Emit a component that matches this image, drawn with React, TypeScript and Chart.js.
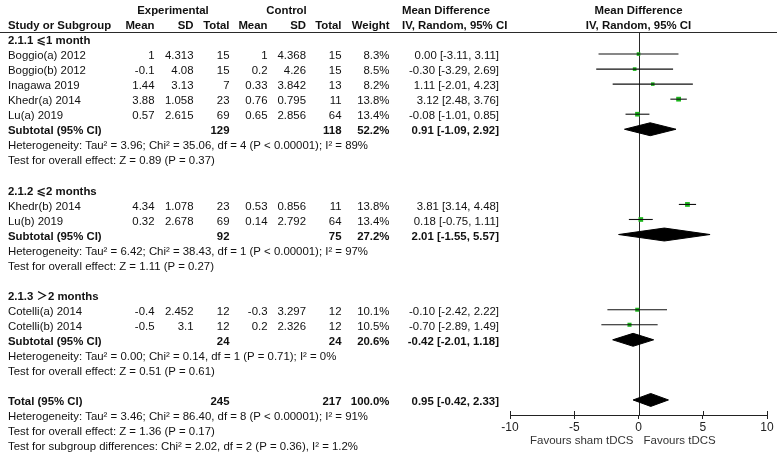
import React, { useEffect, useRef } from 'react';
import { Chart, registerables } from 'chart.js';

Chart.register(...registerables);

// ---------- data ----------
const studies = ['Boggio(a) 2012', 'Boggio(b) 2012', 'Inagawa 2019', 'Khedr(a) 2014', 'Lu(a) 2019', 'Khedr(b) 2014', 'Lu(b) 2019', 'Cotelli(a) 2014', 'Cotelli(b) 2014'];
const studyGroup = [0, 0, 0, 0, 0, 1, 1, 2, 2];
const expMean = ['1', '-0.1', '1.44', '3.88', '0.57', '4.34', '0.32', '-0.4', '-0.5'];
const expSD = ['4.313', '4.08', '3.13', '1.058', '2.615', '1.078', '2.678', '2.452', '3.1'];
const expTotal = [15, 15, 7, 23, 69, 23, 69, 12, 12];
const ctlMean = ['1', '0.2', '0.33', '0.76', '0.65', '0.53', '0.14', '-0.3', '0.2'];
const ctlSD = ['4.368', '4.26', '3.842', '0.795', '2.856', '0.856', '2.792', '3.297', '2.326'];
const ctlTotal = [15, 15, 13, 11, 64, 11, 64, 12, 12];
const weights = [8.3, 8.5, 8.2, 13.8, 13.4, 13.8, 13.4, 10.1, 10.5];
const md = [0.0, -0.3, 1.11, 3.12, -0.08, 3.81, 0.18, -0.1, -0.7];
const ciLo = [-3.11, -3.29, -2.01, 2.48, -1.01, 3.14, -0.75, -2.42, -2.89];
const ciHi = [3.11, 2.69, 4.23, 3.76, 0.85, 4.48, 1.11, 2.22, 1.49];

const groupTitles = ['2.1.1 \u2A7D1 month', '2.1.2 \u2A7D2 months', '2.1.3 \uFF1E2 months'];
const subExpTotal = [129, 92, 24];
const subCtlTotal = [118, 75, 24];
const subWeight = [52.2, 27.2, 20.6];
const subMd = [0.91, 2.01, -0.42];
const subLo = [-1.09, -1.55, -2.01];
const subHi = [2.92, 5.57, 1.18];
const subHet = [
  'Heterogeneity: Tau\u00B2 = 3.96; Chi\u00B2 = 35.06, df = 4 (P < 0.00001); I\u00B2 = 89%',
  'Heterogeneity: Tau\u00B2 = 6.42; Chi\u00B2 = 38.43, df = 1 (P < 0.00001); I\u00B2 = 97%',
  'Heterogeneity: Tau\u00B2 = 0.00; Chi\u00B2 = 0.14, df = 1 (P = 0.71); I\u00B2 = 0%',
];
const subTest = [
  'Test for overall effect: Z = 0.89 (P = 0.37)',
  'Test for overall effect: Z = 1.11 (P = 0.27)',
  'Test for overall effect: Z = 0.51 (P = 0.61)',
];
const totalExp = 245;
const totalCtl = 217;
const totalWeight = 100.0;
const totalMd = 0.95;
const totalLo = -0.42;
const totalHi = 2.33;
const totalHet = 'Heterogeneity: Tau\u00B2 = 3.46; Chi\u00B2 = 86.40, df = 8 (P < 0.00001); I\u00B2 = 91%';
const totalTest = 'Test for overall effect: Z = 1.36 (P = 0.17)';
const subgroupDiff = 'Test for subgroup differences: Chi\u00B2 = 2.02, df = 2 (P = 0.36), I\u00B2 = 1.2%';

const xTicks = [-10, -5, 0, 5, 10];
const favourLeft = 'Favours sham tDCS';
const favourRight = 'Favours tDCS';

// ---------- layout ----------
const FONT = '"Liberation Sans", Arial, "DejaVu Sans", "Noto Sans CJK SC", sans-serif';
const FS = 11.4;
const TEXT_DY = 2;
const COL = {
  name: 8,
  expMean: 154.5,
  expSD: 193.5,
  expTotal: 229.5,
  ctlMean: 267.5,
  ctlSD: 306,
  ctlTotal: 341.5,
  weight: 389.5,
  ciLeft: 402,
  ciRight: 499,
};

type TextItem = { t: string; x: number; row: number; align: CanvasTextAlign; bold?: boolean };

function fmtCI(m: number, l: number, h: number) {
  return `${m.toFixed(2)} [${l.toFixed(2)}, ${h.toFixed(2)}]`;
}

export default function App() {
  const ref = useRef<HTMLCanvasElement>(null);

  useEffect(() => {
    document.body.style.margin = '0';
    const canvas = ref.current!;

    // rows
    let r = 0;
    const studyRow: number[] = [];
    const titleRow: number[] = [];
    const subRow: number[] = [];
    const hetRow: number[] = [];
    const testRow: number[] = [];
    for (let g = 0; g < groupTitles.length; g++) {
      titleRow[g] = r++;
      studies.forEach((_, i) => {
        if (studyGroup[i] === g) studyRow[i] = r++;
      });
      subRow[g] = r++;
      hetRow[g] = r++;
      testRow[g] = r++;
      r++;
    }
    const totalRow = r;

    const items: TextItem[] = [];
    // headers
    items.push({ t: 'Experimental', x: 173, row: -2, align: 'center', bold: true });
    items.push({ t: 'Control', x: 286.5, row: -2, align: 'center', bold: true });
    items.push({ t: 'Mean Difference', x: COL.ciLeft, row: -2, align: 'left', bold: true });
    items.push({ t: 'Study or Subgroup', x: COL.name, row: -1, align: 'left', bold: true });
    items.push({ t: 'Mean', x: COL.expMean, row: -1, align: 'right', bold: true });
    items.push({ t: 'SD', x: COL.expSD, row: -1, align: 'right', bold: true });
    items.push({ t: 'Total', x: COL.expTotal, row: -1, align: 'right', bold: true });
    items.push({ t: 'Mean', x: COL.ctlMean, row: -1, align: 'right', bold: true });
    items.push({ t: 'SD', x: COL.ctlSD, row: -1, align: 'right', bold: true });
    items.push({ t: 'Total', x: COL.ctlTotal, row: -1, align: 'right', bold: true });
    items.push({ t: 'Weight', x: COL.weight, row: -1, align: 'right', bold: true });
    items.push({ t: 'IV, Random, 95% CI', x: COL.ciLeft, row: -1, align: 'left', bold: true });

    for (let g = 0; g < groupTitles.length; g++) {
      items.push({ t: groupTitles[g], x: COL.name, row: titleRow[g], align: 'left', bold: true });
      items.push({ t: 'Subtotal (95% CI)', x: COL.name, row: subRow[g], align: 'left', bold: true });
      items.push({ t: String(subExpTotal[g]), x: COL.expTotal, row: subRow[g], align: 'right', bold: true });
      items.push({ t: String(subCtlTotal[g]), x: COL.ctlTotal, row: subRow[g], align: 'right', bold: true });
      items.push({ t: subWeight[g].toFixed(1) + '%', x: COL.weight, row: subRow[g], align: 'right', bold: true });
      items.push({ t: fmtCI(subMd[g], subLo[g], subHi[g]), x: COL.ciRight, row: subRow[g], align: 'right', bold: true });
      items.push({ t: subHet[g], x: COL.name, row: hetRow[g], align: 'left' });
      items.push({ t: subTest[g], x: COL.name, row: testRow[g], align: 'left' });
    }
    studies.forEach((s, i) => {
      const row = studyRow[i];
      items.push({ t: s, x: COL.name, row, align: 'left' });
      items.push({ t: expMean[i], x: COL.expMean, row, align: 'right' });
      items.push({ t: expSD[i], x: COL.expSD, row, align: 'right' });
      items.push({ t: String(expTotal[i]), x: COL.expTotal, row, align: 'right' });
      items.push({ t: ctlMean[i], x: COL.ctlMean, row, align: 'right' });
      items.push({ t: ctlSD[i], x: COL.ctlSD, row, align: 'right' });
      items.push({ t: String(ctlTotal[i]), x: COL.ctlTotal, row, align: 'right' });
      items.push({ t: weights[i].toFixed(1) + '%', x: COL.weight, row, align: 'right' });
      items.push({ t: fmtCI(md[i], ciLo[i], ciHi[i]), x: COL.ciRight, row, align: 'right' });
    });
    items.push({ t: 'Total (95% CI)', x: COL.name, row: totalRow, align: 'left', bold: true });
    items.push({ t: String(totalExp), x: COL.expTotal, row: totalRow, align: 'right', bold: true });
    items.push({ t: String(totalCtl), x: COL.ctlTotal, row: totalRow, align: 'right', bold: true });
    items.push({ t: totalWeight.toFixed(1) + '%', x: COL.weight, row: totalRow, align: 'right', bold: true });
    items.push({ t: fmtCI(totalMd, totalLo, totalHi), x: COL.ciRight, row: totalRow, align: 'right', bold: true });
    items.push({ t: totalHet, x: COL.name, row: totalRow + 1, align: 'left' });
    items.push({ t: totalTest, x: COL.name, row: totalRow + 2, align: 'left' });
    items.push({ t: subgroupDiff, x: COL.name, row: totalRow + 3, align: 'left' });

    const H = 0.43;
    const diamond = (m: number, l: number, h: number, row: number) => ({
      type: 'line' as const,
      data: [
        { x: l, y: row },
        { x: m, y: row - H },
        { x: h, y: row },
        { x: m, y: row + H },
        { x: l, y: row },
      ],
      borderColor: '#000',
      backgroundColor: '#000',
      borderWidth: 1,
      pointRadius: 0,
      fill: 'shape' as any,
      tension: 0,
    });

    const datasets: any[] = [];
    studies.forEach((_, i) => {
      datasets.push({
        type: 'line',
        data: [
          { x: ciLo[i], y: studyRow[i] },
          { x: ciHi[i], y: studyRow[i] },
        ],
        borderColor: '#111',
        borderWidth: 1.1,
        pointRadius: 0,
        fill: false,
      });
    });
    for (let g = 0; g < groupTitles.length; g++) datasets.push(diamond(subMd[g], subLo[g], subHi[g], subRow[g]));
    datasets.push(diamond(totalMd, totalLo, totalHi, totalRow));
    datasets.push({
      type: 'line',
      showLine: false,
      data: md.map((m, i) => ({ x: m, y: studyRow[i] })),
      pointStyle: 'rect',
      pointRadius: weights.map((w) => 1.3 + 0.15 * w),
      pointBackgroundColor: '#1cb81c',
      pointBorderWidth: 0,
      pointBorderColor: '#1cb81c',
    });

    const tablePlugin = {
      id: 'forestTable',
      beforeDatasetsDraw(chart: any) {
        const { ctx, chartArea, scales } = chart;
        const x0 = scales.x.getPixelForValue(0);
        ctx.save();
        ctx.strokeStyle = '#2a2a2a';
        ctx.lineWidth = 1;
        ctx.beginPath();
        ctx.moveTo(Math.round(x0) + 0.5, chartArea.top);
        ctx.lineTo(Math.round(x0) + 0.5, chartArea.bottom);
        ctx.stroke();
        ctx.restore();
      },
      afterDraw(chart: any) {
        const { ctx, chartArea, scales } = chart;
        const ys = scales.y;
        const xs = scales.x;
        ctx.save();
        // header rule
        ctx.strokeStyle = '#2a2a2a';
        ctx.lineWidth = 1.2;
        ctx.beginPath();
        ctx.moveTo(0, chartArea.top + 0.5);
        ctx.lineTo(777, chartArea.top + 0.5);
        ctx.stroke();
        // upward tick parts
        ctx.lineWidth = 1;
        ctx.strokeStyle = '#222';
        xTicks.forEach((v) => {
          const px = Math.round(xs.getPixelForValue(v)) + 0.5;
          ctx.beginPath();
          ctx.moveTo(px, chartArea.bottom - 4);
          ctx.lineTo(px, chartArea.bottom);
          ctx.stroke();
        });
        ctx.fillStyle = '#111';
        ctx.textBaseline = 'middle';
        items.forEach((it) => {
          ctx.font = `${it.bold ? 'bold ' : ''}${FS}px ${FONT}`;
          ctx.textAlign = it.align;
          ctx.fillText(it.t, it.x, ys.getPixelForValue(it.row) + TEXT_DY);
        });
        // plot header
        const x0 = xs.getPixelForValue(0);
        ctx.font = `bold ${FS}px ${FONT}`;
        ctx.textAlign = 'center';
        ctx.fillText('Mean Difference', x0, ys.getPixelForValue(-2) + TEXT_DY);
        ctx.fillText('IV, Random, 95% CI', x0, ys.getPixelForValue(-1) + TEXT_DY);
        // favours labels
        ctx.font = `11.5px ${FONT}`;
        ctx.fillStyle = '#333';
        ctx.textAlign = 'right';
        ctx.fillText(favourLeft, x0 - 5, chartArea.bottom + 26);
        ctx.textAlign = 'left';
        ctx.fillText(favourRight, x0 + 5, chartArea.bottom + 26);
        ctx.restore();
      },
    };

    const chart = new Chart(canvas, {
      type: 'line',
      data: { datasets },
      options: {
        animation: false,
        responsive: false,
        devicePixelRatio: 1,
        layout: { padding: { left: 510, right: 16, top: 32, bottom: 0 } },
        plugins: { legend: { display: false }, tooltip: { enabled: false } },
        scales: {
          x: {
            type: 'linear',
            position: 'bottom',
            min: -10,
            max: 10,
            afterBuildTicks: (scale: any) => {
              scale.ticks = xTicks.map((v) => ({ value: v }));
            },
            afterFit: (scale: any) => {
              scale.height = 47;
            },
            ticks: {
              color: '#222',
              font: { size: 12, family: FONT },
              padding: 1,
              maxRotation: 0,
              autoSkip: false,
            },
            grid: { drawOnChartArea: false, drawTicks: true, tickLength: 4, color: '#222', lineWidth: 1 },
            border: { display: true, color: '#222', width: 1 },
          },
          y: {
            type: 'linear',
            display: false,
            reverse: true,
            min: -0.466,
            max: 25,
          },
        },
      } as any,
      plugins: [tablePlugin],
    });
    return () => chart.destroy();
  }, []);

  return <canvas ref={ref} width={783} height={462} style={{ display: 'block' }} />;
}
